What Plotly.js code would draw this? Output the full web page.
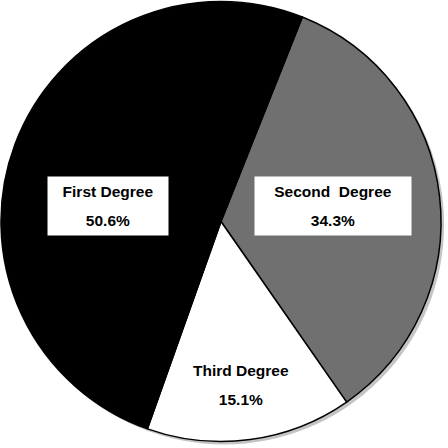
<!DOCTYPE html>
<html>
<head>
<meta charset="utf-8">
<script src="https://cdn.plot.ly/plotly-3.0.1.min.js"></script>
<style>html,body{margin:0;padding:0;background:#fff;}#chart{width:448px;height:448px;}</style>
</head>
<body>
<div id="chart"></div>
<script>
// Data
var labels = ['Second Degree', 'Third Degree', 'First Degree'];
var displayLabels = ['Second&nbsp;&nbsp;Degree', 'Third Degree', 'First Degree'];
var values = [34.3, 15.1, 50.6];
var colors = ['#707070', '#ffffff', '#000000'];

// Label box placement (paper coords) and box visibility
var labelPos = [[0.743, 0.54], [0.538, 0.14], [0.242, 0.54]];
var boxed = [true, false, true];

var annotations = labels.map(function (l, i) {
  return {
    xref: 'paper', yref: 'paper',
    x: labelPos[i][0], y: labelPos[i][1],
    xanchor: 'center', yanchor: 'middle',
    showarrow: false,
    text: "<span style='font-size:15.5px'><b>" + displayLabels[i] + "</b></span><br><span style='font-size:15.5px'><b>" + values[i].toFixed(1) + "%</b></span>",
    font: {family: 'Liberation Sans, Arial, sans-serif', size: 22, color: '#000'},
    bgcolor: boxed[i] ? '#ffffff' : 'rgba(0,0,0,0)',
    width: i === 0 ? 154 : 118,
    height: 56,
    borderpad: 1
  };
});

var shadow = {
  type: 'pie',
  labels: ['shadow'],
  values: [1],
  sort: false,
  marker: {colors: ['#c4c4c4'], line: {width: 0}},
  textinfo: 'none',
  hoverinfo: 'none',
  showlegend: false,
  domain: {x: [0.0089, 0.9911], y: [0.0067, 0.9911]}
};

var trace = {
  type: 'pie',
  labels: labels,
  values: values,
  sort: false,
  direction: 'clockwise',
  rotation: 21.7,
  marker: {colors: colors, line: {color: '#000000', width: 1.5}},
  textinfo: 'none',
  hoverinfo: 'none',
  showlegend: false,
  domain: {x: [0.0022, 0.9844], y: [0.0134, 0.9978]}
};

var layout = {
  width: 448, height: 448,
  margin: {l: 0, r: 0, t: 0, b: 0},
  paper_bgcolor: '#ffffff',
  plot_bgcolor: '#ffffff',
  showlegend: false,
  annotations: annotations
};

Plotly.newPlot('chart', [shadow, trace], layout, {displayModeBar: false, staticPlot: true});
</script>
</body>
</html>
